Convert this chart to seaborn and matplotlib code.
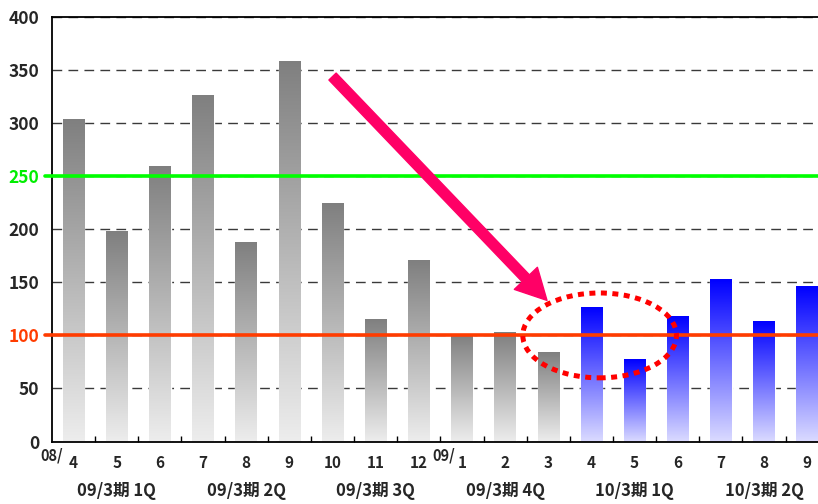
import numpy as np
import pandas as pd
import matplotlib.pyplot as plt
import seaborn as sns
from matplotlib.patches import Ellipse

# data
periods = ["08/4", "08/5", "08/6", "08/7", "08/8", "08/9", "08/10", "08/11", "08/12",
           "09/1", "09/2", "09/3", "09/4", "09/5", "09/6", "09/7", "09/8", "09/9"]
months = ["4", "5", "6", "7", "8", "9", "10", "11", "12",
          "1", "2", "3", "4", "5", "6", "7", "8", "9"]
values = [304, 198, 260, 327, 188, 359, 225, 115, 171,
          101, 103, 84, 127, 78, 118, 153, 114, 147]
fiscal = ["09/3期"] * 12 + ["10/3期"] * 6
quarters = ["09/3期 1Q", "09/3期 2Q", "09/3期 3Q", "09/3期 4Q", "10/3期 1Q", "10/3期 2Q"]
quarter_mid = [1, 4, 7, 10, 13, 16]
y_ticks = [0, 50, 100, 150, 200, 250, 300, 350, 400]
line_high = 250
line_low = 100

df = pd.DataFrame({"period": periods, "value": values, "fiscal": fiscal})

sns.set_theme(style="white")
plt.rcParams['font.family'] = ['Liberation Sans Narrow', 'Noto Sans CJK JP', 'DejaVu Sans']
plt.rcParams['font.weight'] = 'bold'

fig = plt.figure(figsize=(8.18, 5.04), dpi=100)
ax = fig.add_axes([0.0636, 0.124, 0.9364, 0.842])

top_colors = {"09/3期": np.array([0.50, 0.50, 0.50]), "10/3期": np.array([0.0, 0.0, 1.0])}
bottom_colors = {"09/3期": np.array([0.93, 0.93, 0.93]), "10/3期": np.array([0.86, 0.86, 1.0])}

sns.barplot(data=df, x="period", y="value", hue="fiscal",
            palette={"09/3期": "#808080", "10/3期": "#0000ff"},
            width=0.5, dodge=False, saturation=1, legend=False, ax=ax, zorder=2)

# vertical gradient inside every bar
grad = np.linspace(0, 1, 256)[:, None, None]
bars = sorted([p for p in ax.patches if p.get_height() > 0], key=lambda p: p.get_x())
for patch, f in zip(bars, fiscal):
    x0 = patch.get_x()
    w = patch.get_width()
    h = patch.get_height()
    img = top_colors[f] * (1 - grad) + bottom_colors[f] * grad
    im = ax.imshow(img, extent=(x0, x0 + w, 0, h), origin="upper", aspect="auto", zorder=2.1)
    im.set_clip_path(patch)

ax.set_xlim(-0.5, 17.25)
ax.set_ylim(0, 400)

# grid
ax.set_yticks(y_ticks)
ax.yaxis.grid(True, linestyle=(0, (7, 4.5)), color="#3a3a3a", linewidth=1, zorder=1)
ax.set_axisbelow(True)

# reference lines
ax.axhline(line_high, xmin=-0.009, xmax=1, color="#00ff00", lw=2.6, clip_on=False, zorder=3)
ax.axhline(line_low, xmin=-0.009, xmax=1, color="#ff3c00", lw=2.6, clip_on=False, zorder=3)

# axes styling
for s in ["left", "bottom", "top"]:
    ax.spines[s].set_color("black")
    ax.spines[s].set_linewidth(1.3)
ax.spines["right"].set_visible(False)

ax.set_xticks(range(len(months)))
ax.set_xticklabels(months, fontsize=11, fontweight="bold")
ax.set_xticks(np.arange(0.5, 17, 1), minor=True)
ax.tick_params(axis="x", which="major", length=0, pad=10)
ax.tick_params(axis="x", which="minor", direction="in", length=4, width=1, color="black", bottom=True)
ax.set_yticklabels([str(v) for v in y_ticks], fontsize=12.5, fontweight="bold")
ax.tick_params(axis="y", direction="in", length=0, pad=9)
for lab, v in zip(ax.get_yticklabels(), y_ticks):
    if v == line_high:
        lab.set_color("#00ee00")
    elif v == line_low:
        lab.set_color("#ff3c00")
ax.set_xlabel("")
ax.set_ylabel("")

trans = ax.get_xaxis_transform()
ax.text(-0.24, -0.034, "08/", transform=trans, ha="right", va="center", fontsize=10.5, fontweight="bold")
ax.text(8.84, -0.034, "09/", transform=trans, ha="right", va="center", fontsize=10.5, fontweight="bold")
for q, m in zip(quarters, quarter_mid):
    ax.text(m, -0.117, q, transform=trans, ha="center", va="center", fontsize=12, fontweight="bold")

# annotation arrow and dotted ellipse
ax.annotate("", xy=(10.97, 133), xytext=(6.0, 344),
            arrowprops=dict(arrowstyle="simple,head_length=2.2,head_width=2.3,tail_width=0.72",
                            color="#ff0066", mutation_scale=10, shrinkA=0, shrinkB=0),
            zorder=4)
ax.add_patch(Ellipse((12.19, 100), 3.56, 80, fill=False, edgecolor="#ff0000",
                     lw=3.6, linestyle=(0, (1.2, 1.1)), zorder=4))

fig.savefig("out.png", dpi=100)
